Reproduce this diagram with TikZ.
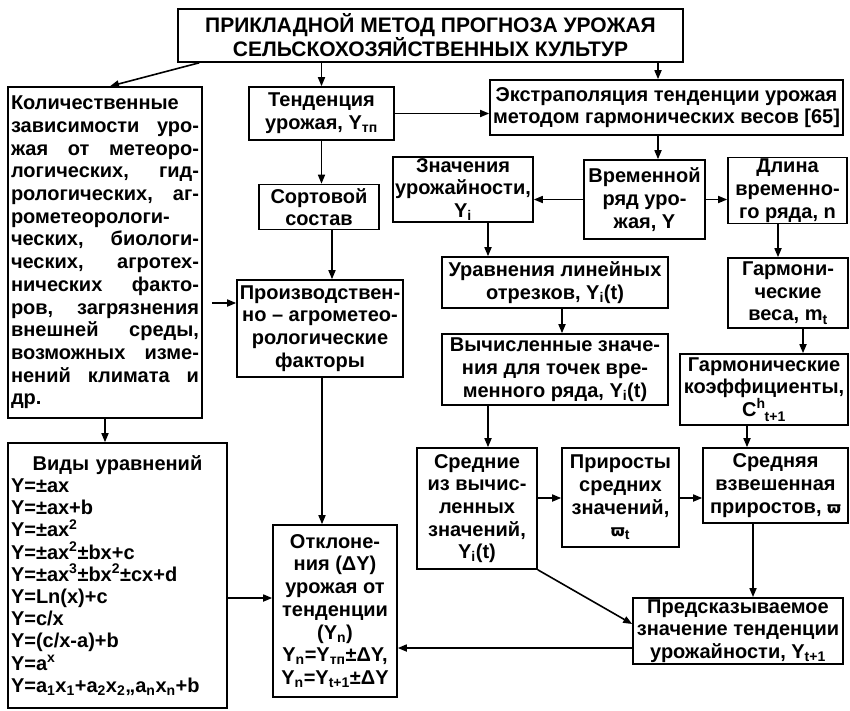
\documentclass[tikz,border=0pt]{standalone}
\usepackage{fontspec}
\setmainfont{Liberation Sans}
\newfontfamily\djv{DejaVu Sans}
\usetikzlibrary{arrows.meta}
\newcommand\fs{\fontsize{20}{22.7}\selectfont\bfseries}
\newcommand\fst{\fontsize{21}{24}\selectfont\bfseries}
\newlength\kw
\setlength\kw{188pt}
\newlength\vw
\setlength\vw{213pt}
\newcommand\jl[1]{\leavevmode\hbox to \kw{#1}}
\newcommand\sbs[1]{\textsubscript{#1}}
\newcommand\sps[1]{\textsuperscript{#1}}
\newcommand\vpi{{\djv\bfseries\fontsize{16}{16}\selectfont ϖ}}
\begin{document}
\begin{tikzpicture}[x=1pt,y=-1pt,
  box/.style={draw, line width=1.6pt, align=center, inner sep=1.5pt, font=\fs},
  arr/.style={line width=1.6pt, -{Triangle[length=9pt,width=7pt]}}]
\useasboundingbox (0,0) rectangle (850,710);
% nodes
\node[box, font=\fst, minimum width=505, minimum height=53] (title) at (430.5,35.5) {ПРИКЛАДНОЙ МЕТОД ПРОГНОЗА УРОЖАЯ\\СЕЛЬСКОХОЗЯЙСТВЕННЫХ КУЛЬТУР};
\node[box, minimum width=194, minimum height=331, text width=\kw, align=left] (kol) at (105,252.5) {%
Количественные\\
\jl{зависимости\hfill уро-}\\
\jl{жая\hfill от\hfill метеоро-}\\
\jl{логических,\hfill гид-}\\
\jl{рологических,\hfill аг-}\\
рометеорологи-\\
\jl{ческих,\hfill биологи-}\\
\jl{ческих,\hfill агротех-}\\
\jl{нических\hfill факто-}\\
\jl{ров,\hfill загрязнения}\\
\jl{внешней\hfill среды,}\\
\jl{возможных\hfill изме-}\\
\jl{нений\hfill климата\hfill и}\\
др.};
\node[box, minimum width=145, minimum height=53] (tend) at (321.5,113.5) {Тенденция\\урожая, Y\sbs{тп}};
\node[box, minimum width=353, minimum height=55] (extr) at (666.5,107.5) {Экстраполяция тенденции урожая\\методом гармонических весов [65]};
\node[box, minimum width=120, minimum height=45] (sort) at (319,207) {Сортовой\\состав};
\node[box, minimum width=166, minimum height=97] (proizv) at (320,328.5) {Производствен-\\но -- агрометео-\\рологические\\факторы};
\node[box, minimum width=140, minimum height=61] (znach) at (463,189.5) {Значения\\урожайности,\\Y\sbs{i}};
\node[box, minimum width=121, minimum height=79] (vrem) at (644.5,199.5) {Временной\\ряд уро-\\жая, Y};
\node[box, minimum width=119, minimum height=61] (dlina) at (787.5,190.5) {Длина\\временно-\\го ряда, n};
\node[box, minimum width=226, minimum height=51] (urav) at (555,282.5) {Уравнения линейных\\отрезков, Y\sbs{i}(t)};
\node[box, minimum width=226, minimum height=71] (vych) at (555,369.5) {Вычисленные значе-\\ния для точек вре-\\менного ряда, Y\sbs{i}(t)};
\node[box, minimum width=120, minimum height=70] (garm) at (788,293) {Гармони-\\ческие\\веса, m\sbs{t}};
\node[box, minimum width=168, minimum height=71] (koef) at (764,389.5) {Гармонические\\коэффициенты,\\C\sps{h}\kern-1pt\raisebox{-2pt}{\sbs{t+1}}};
\node[box, minimum width=120, minimum height=121] (sredn) at (477,508.5) {Средние\\из вычис-\\ленных\\значений,\\Y\sbs{i}(t)};
\node[box, minimum width=117, minimum height=99] (prir) at (620.5,497.5) {Приросты\\средних\\значений,\\\vpi\sbs{t}};
\node[box, minimum width=145, minimum height=75] (srvz) at (775.5,485.5) {Средняя\\взвешенная\\приростов, \vpi};
\node[box, minimum width=210, minimum height=62] (pred) at (738,631) {Предсказываемое\\значение тенденции\\урожайности, Y\sbs{t+1}};
\node[box, minimum width=124, minimum height=172] (otkl) at (335,611) {Отклоне-\\ния (ΔY)\\урожая от\\тенденции\\(Y\sbs{n})\\Y\sbs{n}=Y\sbs{тп}±ΔY,\\Y\sbs{n}=Y\sbs{t+1}±ΔY};
\node[box, minimum width=219, minimum height=265, text width=\vw, align=left, font=\fontsize{20}{22.2}\selectfont\bfseries] (vidy) at (117.5,575.5) {%
\makebox[\vw][c]{Виды уравнений}\\
Y=±ax\\
Y=±ax+b\\
Y=±ax\sps{2}\\
Y=±ax\sps{2}±bx+c\\
Y=±ax\sps{3}±bx\sps{2}±cx+d\\
Y=Ln(x)+c\\
Y=c/x\\
Y=(c/x-a)+b\\
Y=a\sps{x}\\
Y=a\sbs{1}x\sbs{1}+a\sbs{2}x\sbs{2},,a\sbs{n}x\sbs{n}+b};
% helper coordinates
\coordinate (cA) at (658,0);
\coordinate (cB) at (332,0);
\coordinate (cN) at (322,0);
\coordinate (cC) at (0,303);
\coordinate (cD) at (0,598);
\coordinate (cE) at (488,0);
\coordinate (cF) at (562,0);
\coordinate (cG) at (778,0);
\coordinate (cH) at (803,0);
\coordinate (cI) at (747,0);
\coordinate (cJ) at (0,498);
\coordinate (cK) at (753,0);
\coordinate (cL) at (0,624);
\coordinate (cM) at (0,648);
% connectors
\draw[arr] ([xshift=22pt]title.south west) -- ([xshift=5pt]kol.north);
\draw[arr] (tend.north |- title.south) -- (tend.north);
\draw[arr] (title.south -| cA) -- (extr.north -| cA);
\draw[arr] (tend.east) -- (extr.west |- tend.east);
\draw[arr] (extr.south -| cA) -- (vrem.north -| cA);
\draw[arr] (tend.south) -- (tend.south |- sort.north);
\draw[arr] (sort.south -| cB) -- (proizv.north -| cB);
\draw[arr, shorten <=9pt] (kol.east |- cC) -- (proizv.west |- cC);
\draw[arr] (proizv.south -| cN) -- (otkl.north -| cN);
\draw[arr] (kol.south) -- (kol.south |- vidy.north);
\draw[arr] (vidy.east |- cD) -- (otkl.west |- cD);
\draw[arr] (vrem.west) -- (znach.east |- vrem.west);
\draw[arr] (vrem.east) -- (dlina.west |- vrem.east);
\draw[arr] (znach.south -| cE) -- (urav.north -| cE);
\draw[arr] (urav.south -| cF) -- (vych.north -| cF);
\draw[arr] (dlina.south -| cG) -- (garm.north -| cG);
\draw[arr] (garm.south -| cH) -- (koef.north -| cH);
\draw[arr] (vych.south -| cE) -- (sredn.north -| cE);
\draw[arr] (koef.south -| cI) -- (srvz.north -| cI);
\draw[arr] (sredn.east |- cJ) -- (prir.west |- cJ);
\draw[arr] (prir.east |- cJ) -- (srvz.west |- cJ);
\draw[arr] (srvz.south -| cK) -- (pred.north -| cK);
\draw[arr] (sredn.south east) -- (pred.west |- cL);
\draw[arr] (pred.west |- cM) -- (otkl.east |- cM);
\end{tikzpicture}
\end{document}
